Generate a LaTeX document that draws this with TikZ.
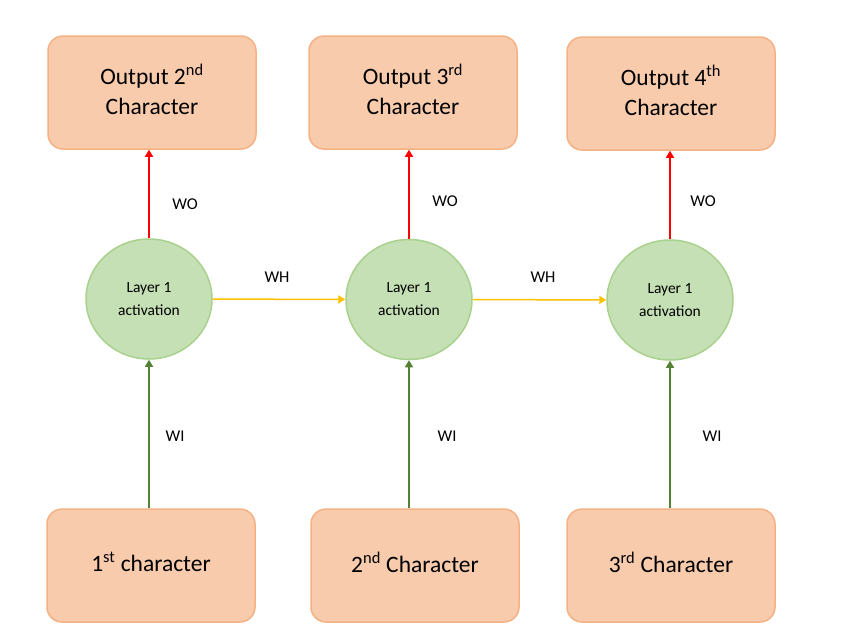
\documentclass[tikz,border=0pt]{standalone}
\usepackage{fontspec}
\setmainfont{Carlito}
\usetikzlibrary{arrows.meta,shapes.geometric}

\definecolor{boxfill}{HTML}{F8CBAD}
\definecolor{boxline}{HTML}{F4B183}
\definecolor{layerfill}{HTML}{C5E0B4}
\definecolor{layerline}{HTML}{A9D18E}
\definecolor{wogreen}{HTML}{548235}
\definecolor{whyellow}{HTML}{FFC000}

\begin{document}
\begin{tikzpicture}[
		x=1pt, y=-1pt,
		charbox/.style={rectangle, rounded corners=15pt, draw=boxline, fill=boxfill, line width=1.5pt,
			minimum width=208pt, minimum height=113pt, text depth=7pt, align=center,
			font=\fontsize{23.5}{30}\selectfont},
		layer/.style={ellipse, inner sep=0pt, draw=layerline, fill=layerfill, line width=1.5pt,
			minimum width=126pt, minimum height=120pt, align=center, font=\fontsize{15.5}{23}\selectfont},
		weight/.style={font=\fontsize{16.5}{18}\selectfont},
		wo/.style={draw=red, line width=1.5pt, -{Triangle[length=7pt,width=8pt]}},
		wi/.style={draw=wogreen, line width=1.5pt, -{Triangle[length=7pt,width=8pt]}},
		wh/.style={draw=whyellow, line width=1.5pt, -{Triangle[length=7pt,width=8pt]}}
	]
  \useasboundingbox (0,0) rectangle (855,641);
  % outputs
  \node (out_2) [charbox] at (152, 92.5) {Output 2\textsuperscript{nd}\\Character};
  \node (out_3) [charbox] at (413, 92.5) {Output 3\textsuperscript{rd}\\Character};
  \node (out_4) [charbox] at (671, 93.5) {Output 4\textsuperscript{th}\\Character};
  % hidden layer
  \node (act_1) [layer] at (149, 299) {Layer 1\\activation};
  \node (act_2) [layer] at (409, 299.5) {Layer 1\\activation};
  \node (act_3) [layer] at (670, 300) {Layer 1\\activation};
  % inputs
  \node (in_1) [charbox] at (151, 565.5) {1\textsuperscript{st} character};
  \node (in_2) [charbox] at (415, 565.5) {2\textsuperscript{nd} Character};
  \node (in_3) [charbox] at (671, 565.5) {3\textsuperscript{rd} Character};
  % weight labels
  \node (wo_1) [weight] at (185, 204) {WO};
  \node (wo_2) [weight] at (445, 201) {WO};
  \node (wo_3) [weight] at (703, 201) {WO};
  \node (wh_1) [weight] at (277, 277) {WH};
  \node (wh_2) [weight] at (543, 277) {WH};
  \node (wi_1) [weight] at (175, 436) {WI};
  \node (wi_2) [weight] at (447, 436) {WI};
  \node (wi_3) [weight] at (712, 436) {WI};
  \draw (act_1.north) edge [wo] (out_2.south -| act_1.north);
  \draw (act_2.north) edge [wo] (out_3.south -| act_2.north);
  \draw (act_3.north) edge [wo] (out_4.south -| act_3.north);
  \draw (in_1.north -| act_1.south) edge [wi] (act_1.south);
  \draw (in_2.north -| act_2.south) edge [wi] (act_2.south);
  \draw (in_3.north -| act_3.south) edge [wi] (act_3.south);
  \draw (act_1) edge [wh] (act_2);
  \draw (act_2) edge [wh] (act_3);
\end{tikzpicture}
\end{document}
